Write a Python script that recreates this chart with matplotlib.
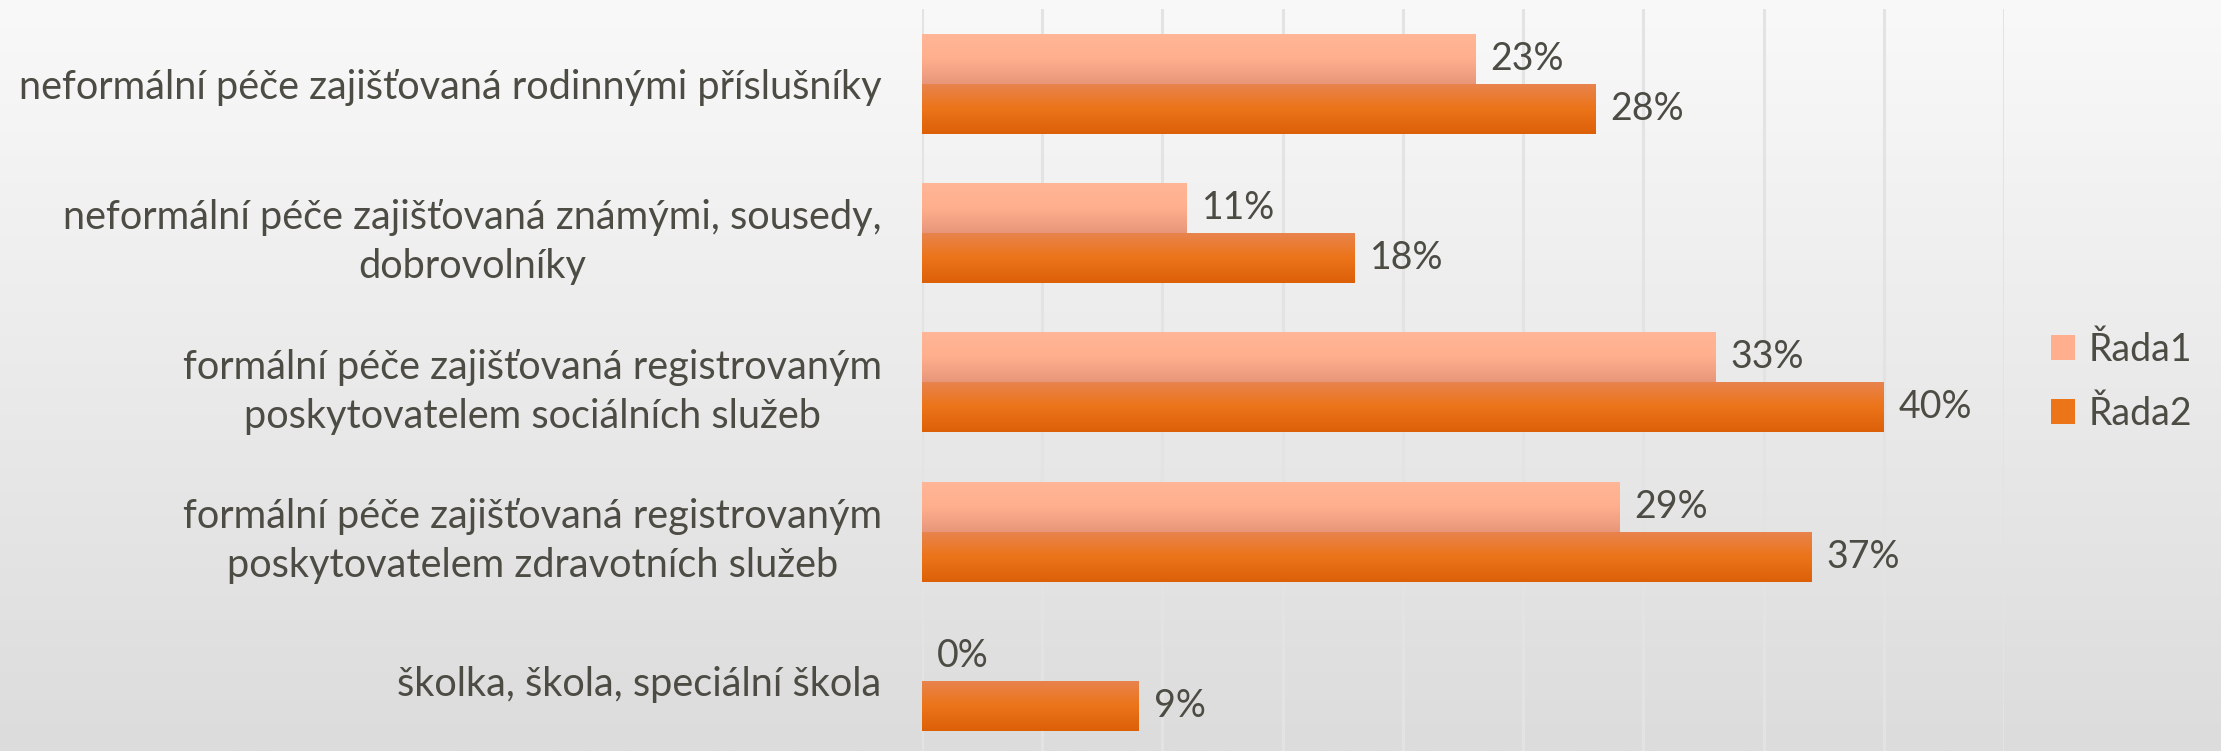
import numpy as np
import matplotlib
matplotlib.use("Agg")
import matplotlib.pyplot as plt
from matplotlib.colors import LinearSegmentedColormap
from matplotlib.patches import Patch

# === Data ===
categories = [
    "neformální péče zajišťovaná rodinnými příslušníky",
    "neformální péče zajišťovaná známými, sousedy,\ndobrovolníky",
    "formální péče zajišťovaná registrovaným\nposkytovatelem sociálních služeb",
    "formální péče zajišťovaná registrovaným\nposkytovatelem zdravotních služeb",
    "školka, škola, speciální škola",
]
series_names = ["Řada1", "Řada2"]
rada1 = [23, 11, 33, 29, 0]
rada2 = [28, 18, 40, 37, 9]

# === Style ===
plt.rcParams["font.family"] = ["Lato", "DejaVu Sans"]
TEXT = "#4C4C44"
GRID = "#E3E3E3"
grad1 = LinearSegmentedColormap.from_list("r1", ["#FFB697", "#FFAF8D", "#E8967A"])
grad2 = LinearSegmentedColormap.from_list("r2", ["#E8844F", "#EC7419", "#DC6008"])

W, H = 2221, 751
fig = plt.figure(figsize=(W / 100, H / 100), dpi=100)

# background gradient (light top -> grey bottom)
bg = fig.add_axes([0, 0, 1, 1], zorder=-10)
bg_cmap = LinearSegmentedColormap.from_list("bg", ["#F9F9F9", "#DCDCDC"])
bg.imshow(np.linspace(0, 1, 256).reshape(-1, 1), cmap=bg_cmap, aspect="auto",
          extent=[0, 1, 0, 1], origin="upper")
bg.set_axis_off()

ax = fig.add_axes([922 / W, -0.006, (2004 - 922) / W, 0.994])
ax.patch.set_alpha(0)

y = np.arange(len(categories))
h = 0.335
b1 = ax.barh(y - h / 2, rada1, height=h, color="#FFAF8D", zorder=2)
b2 = ax.barh(y + h / 2, rada2, height=h, color="#EC7419", zorder=2)

# gradient fills inside each bar
ramp = np.linspace(0, 1, 100).reshape(-1, 1)
for bars, cmap in [(b1, grad1), (b2, grad2)]:
    for p in bars:
        x0, y0, w, hh = p.get_x(), p.get_y(), p.get_width(), p.get_height()
        if w <= 0:
            continue
        im = ax.imshow(ramp, cmap=cmap, aspect="auto", origin="upper",
                       extent=[x0, x0 + w, y0 + hh, y0], zorder=3)
        im.set_clip_path(p)

for bars, vals in [(b1, rada1), (b2, rada2)]:
    ax.bar_label(bars, labels=[f"{v}%" for v in vals], padding=11,
                 fontsize=27, color=TEXT)

ax.set_xlim(0, 45)
ax.set_ylim(len(categories) - 0.5, -0.5)
ax.set_xticks(np.arange(0, 50, 5))
ax.xaxis.grid(True, color=GRID, linewidth=2.2, zorder=0)
ax.set_axisbelow(True)
ax.tick_params(axis="x", length=0, labelbottom=False)
ax.tick_params(axis="y", length=0, pad=29, labelsize=28.6, labelcolor=TEXT)
ax.set_yticks(y)
ax.set_yticklabels(categories)
for lbl in ax.get_yticklabels():
    lbl.set_multialignment("center")
    lbl.set_linespacing(1.4)
for s in ax.spines.values():
    s.set_visible(False)

handles = [Patch(facecolor="#FFAF8D"), Patch(facecolor="#EC7419")]
fig.legend(handles, series_names, loc="center left",
           bbox_to_anchor=(2051 / W, 1 - 382 / H), frameon=False,
           fontsize=27, labelcolor=TEXT, borderpad=0, borderaxespad=0,
           handlelength=0.65, handleheight=0.65, handletextpad=0.35,
           labelspacing=0.75)

fig.savefig("out.png", dpi=100)
